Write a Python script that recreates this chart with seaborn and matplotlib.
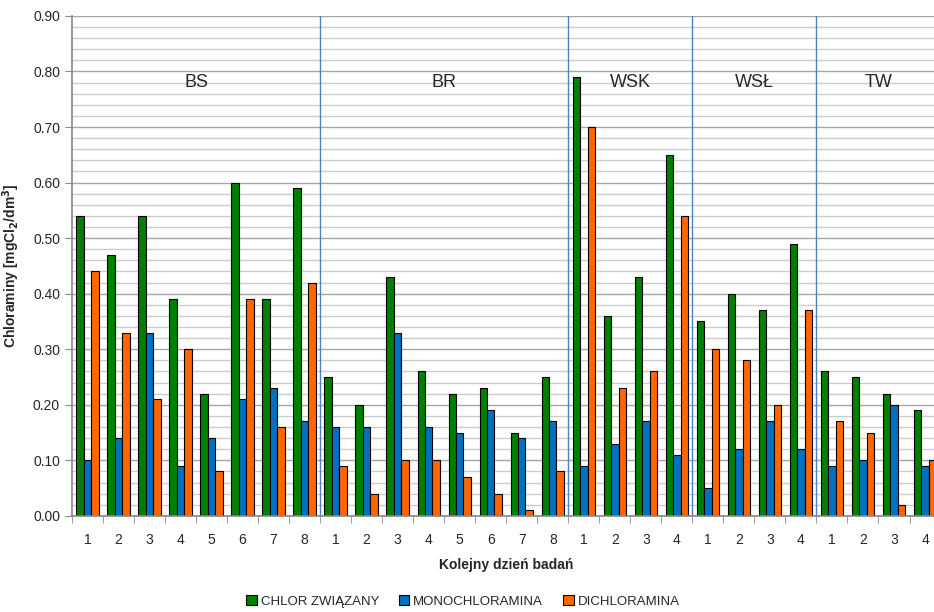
import matplotlib
matplotlib.use('Agg')
import matplotlib.pyplot as plt
import numpy as np
import pandas as pd
import seaborn as sns

# Data
sites = ['BS', 'BR', 'WSK', 'WSŁ', 'TW']
days_per_site = [8, 8, 4, 4, 4]
series_names = ['CHLOR ZWIĄZANY', 'MONOCHLORAMINA', 'DICHLORAMINA']

chlor_zwiazany = [0.54, 0.47, 0.54, 0.39, 0.22, 0.60, 0.39, 0.59,
                  0.25, 0.20, 0.43, 0.26, 0.22, 0.23, 0.15, 0.25,
                  0.79, 0.36, 0.43, 0.65,
                  0.35, 0.40, 0.37, 0.49,
                  0.26, 0.25, 0.22, 0.19]
monochloramina = [0.10, 0.14, 0.33, 0.09, 0.14, 0.21, 0.23, 0.17,
                  0.16, 0.16, 0.33, 0.16, 0.15, 0.19, 0.14, 0.17,
                  0.09, 0.13, 0.17, 0.11,
                  0.05, 0.12, 0.17, 0.12,
                  0.09, 0.10, 0.20, 0.09]
dichloramina = [0.44, 0.33, 0.21, 0.30, 0.08, 0.39, 0.16, 0.42,
                0.09, 0.04, 0.10, 0.10, 0.07, 0.04, 0.01, 0.08,
                0.70, 0.23, 0.26, 0.54,
                0.30, 0.28, 0.20, 0.37,
                0.17, 0.15, 0.02, 0.10]

day_labels = [str(d) for n in days_per_site for d in range(1, n + 1)]
n_groups = len(day_labels)

df = pd.DataFrame({
    'pos': list(range(n_groups)) * 3,
    'value': chlor_zwiazany + monochloramina + dichloramina,
    'series': [s for s in series_names for _ in range(n_groups)],
})

colors = ['#007F00', '#0070C0', '#FF6600']

sns.set_style('white')
plt.rcParams['font.family'] = ['Liberation Sans', 'DejaVu Sans']
plt.rcParams['mathtext.default'] = 'regular'

fig = plt.figure(figsize=(9.34, 6.12), dpi=100)
# plot area runs slightly past the right edge, as in the original
ax = fig.add_axes([0.077, 0.157, 0.930, 0.817])

sns.barplot(data=df, x='pos', y='value', hue='series', hue_order=series_names,
            palette=colors, width=0.72, edgecolor='black', linewidth=0.8,
            saturation=1, ax=ax)

# Grid
ax.set_ylim(0, 0.9)
ax.set_yticks(np.arange(0, 0.901, 0.1))
ax.set_yticks(np.arange(0, 0.901, 0.02), minor=True)
ax.yaxis.grid(True, which='major', color='#a6a6a6', linewidth=1.0)
ax.yaxis.grid(True, which='minor', color='#cccccc', linewidth=1.0)
ax.set_axisbelow(True)
ax.set_yticklabels([f'{v:.2f}' for v in np.arange(0, 0.901, 0.1)], fontsize=10)
ax.tick_params(axis='y', which='major', length=5, color='#888888', direction='out', left=True)
ax.tick_params(axis='y', which='minor', length=0)

# x ticks: labels centered, tick marks between groups
ax.set_xlim(-0.5, n_groups - 0.5)
ax.set_xticks(range(n_groups))
ax.set_xticklabels(day_labels, fontsize=10)
ax.tick_params(axis='x', which='major', length=0, pad=12)
ax.set_xticks(np.arange(-0.5, n_groups, 1.0), minor=True)
ax.tick_params(axis='x', which='minor', length=5, color='#888888', direction='out', bottom=True)

for side in ['top', 'right']:
    ax.spines[side].set_visible(False)
for side in ['left', 'bottom']:
    ax.spines[side].set_color('#888888')
    ax.spines[side].set_linewidth(1.2)

# Site separators and labels
bounds = np.cumsum([0] + days_per_site) - 0.5
for b in bounds[1:-1]:
    ax.axvline(b, color='#4f81bd', linewidth=1.0, zorder=1)
for i, site in enumerate(sites):
    ax.text((bounds[i] + bounds[i + 1]) / 2, 0.78, site, ha='center', va='center',
            fontsize=13)

ax.set_xlabel('Kolejny dzień badań', fontsize=10, fontweight='bold', labelpad=8)
ax.set_ylabel(r'Chloraminy [mgCl$_\mathbf{2}$/dm$^\mathbf{3}$]', fontsize=10,
              fontweight='bold', labelpad=8)

ax.legend(loc='upper center', bbox_to_anchor=(0.45, -0.14), ncol=3, frameon=False,
          fontsize=9.5, handlelength=0.8, handleheight=0.8, handletextpad=0.3,
          columnspacing=1.5, title=None, borderpad=0.2)

fig.savefig('out.png', dpi=100)
